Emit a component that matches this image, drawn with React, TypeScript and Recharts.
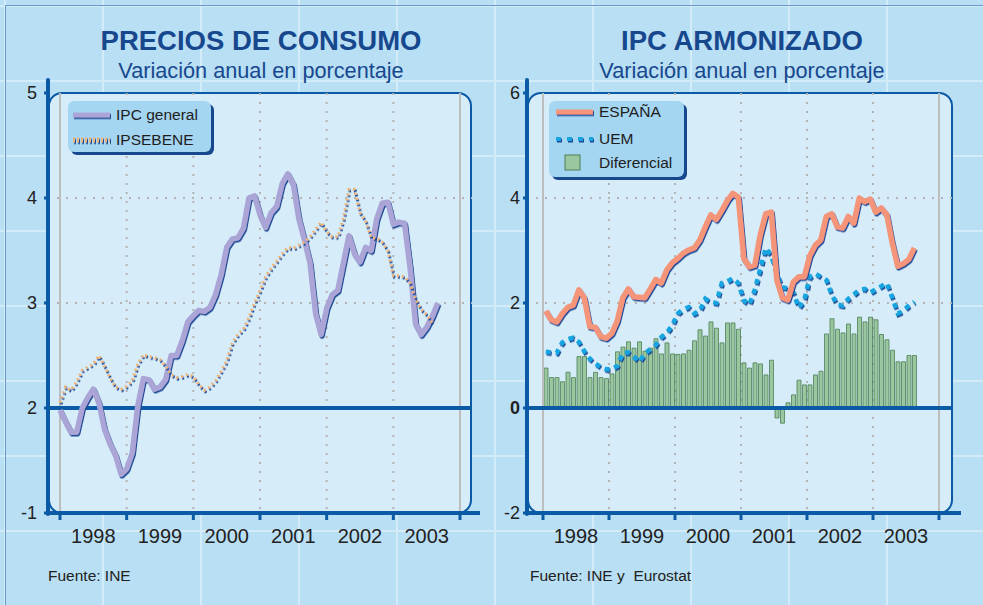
import React from 'react';
import {
  ComposedChart,
  Line,
  Bar,
  XAxis,
  YAxis,
  CartesianGrid,
  ReferenceLine,
} from 'recharts';

// month index 0 = enero 1998
const yearTicks = [0, 12, 24, 36, 48, 60, 72];
const yearLabelTicks = [6, 18, 30, 42, 54, 66];
const yearLabels = ['1998', '1999', '2000', '2001', '2002', '2003'];

// Precios de consumo
const ipcGeneral = [
  1.98, 1.87, 1.77, 1.77, 2.0, 2.1, 2.18, 2.05, 1.8, 1.66, 1.55, 1.37,
  1.42, 1.57, 2.02, 2.28, 2.27, 2.18, 2.2, 2.27, 2.5, 2.5, 2.64, 2.82,
  2.88, 2.93, 2.92, 2.96, 3.08, 3.27, 3.53, 3.61, 3.62, 3.71, 4.0, 4.02,
  3.84, 3.72, 3.86, 3.92, 4.14, 4.23, 4.13, 3.8, 3.6, 3.38, 2.9, 2.7,
  2.95, 3.08, 3.12, 3.38, 3.64, 3.47, 3.39, 3.53, 3.5, 3.8, 3.95, 3.96,
  3.75, 3.77, 3.76, 3.34, 2.8, 2.7, 2.77, 2.87, 3.0,
];
const ipsebene = [
  2.05, 2.2, 2.17, 2.25, 2.36, 2.39, 2.42, 2.5, 2.4, 2.29, 2.2, 2.18,
  2.21, 2.26, 2.42, 2.51, 2.49, 2.48, 2.46, 2.4, 2.32, 2.29, 2.3, 2.32,
  2.3, 2.22, 2.17, 2.2, 2.26, 2.35, 2.45, 2.62, 2.7, 2.75, 2.86, 3.0,
  3.12, 3.25, 3.33, 3.4, 3.47, 3.53, 3.52, 3.55, 3.58, 3.63, 3.7, 3.77,
  3.68, 3.63, 3.63, 3.8, 4.08, 4.08, 3.86, 3.78, 3.62, 3.62, 3.58, 3.5,
  3.26, 3.26, 3.25, 3.19, 3.04, 2.94, 2.89, 2.81,
];
const leftTicks = [1, 2, 3, 4, 5];
const leftTickLabels = ['-1', '2', '3', '4', '5'];

// IPC armonizado
const espana = [
  1.85, 1.68, 1.64, 1.8, 1.92, 1.96, 2.25, 2.1, 1.55, 1.54, 1.36, 1.33,
  1.42, 1.66, 2.1, 2.27, 2.12, 2.11, 2.1, 2.27, 2.45, 2.38, 2.63, 2.77,
  2.85, 2.95, 3.01, 3.05, 3.2, 3.45, 3.68, 3.59, 3.76, 3.95, 4.09, 4.02,
  2.85, 2.69, 2.72, 3.3, 3.7, 3.73, 2.44, 2.1, 2.06, 2.4, 2.5, 2.5,
  2.9, 3.1, 3.2, 3.65, 3.7, 3.45, 3.43, 3.65, 3.52, 4.0, 3.93, 3.98,
  3.73, 3.81, 3.68, 3.14, 2.7, 2.75, 2.83, 3.05,
];
const uem = [
  1.07, 1.06, 1.05, 1.25, 1.31, 1.34, 1.26, 1.08, 0.94, 0.85, 0.78, 0.74,
  0.74, 0.8, 1.05, 1.06, 0.98, 0.88, 1.04, 1.12, 1.2, 1.35, 1.43, 1.58,
  1.8, 1.88, 1.92, 1.8, 1.85, 2.08, 2.02, 2.0, 2.38, 2.41, 2.47, 2.38,
  2.05, 1.97, 2.25, 2.65, 3.05, 2.9, 2.55, 2.3, 2.28, 2.2, 1.91, 2.05,
  2.5, 2.56, 2.5, 2.44, 2.15, 1.97, 1.95, 2.08, 2.16, 2.25, 2.27, 2.2,
  2.26, 2.32, 2.38, 2.1, 1.8, 1.85, 1.95, 2.02,
];
const diferencial = [
  0.76, 0.58, 0.58, 0.5, 0.68, 0.58, 0.98, 0.98, 0.58, 0.68, 0.58, 0.56,
  0.65, 1.07, 1.16, 1.26, 1.14, 1.26, 1.08, 1.14, 1.32, 1.03, 1.24, 1.03,
  1.02, 1.03, 1.1, 1.28, 1.49, 1.37, 1.64, 1.52, 1.24, 1.62, 1.62, 1.5,
  0.86, 0.76, 0.86, 0.84, 0.63, 0.91, -0.19, -0.29, 0.1, 0.25, 0.53, 0.44,
  0.44, 0.63, 0.7, 1.41, 1.7, 1.5, 1.43, 1.6, 1.41, 1.73, 1.64, 1.73,
  1.68, 1.4, 1.3, 1.1, 0.88, 0.88, 1.0, 1.0,
];
const rightTicks = [-2, 0, 2, 4, 6];
const rightTickLabels = ['-2', '0', '2', '4', '6'];

const BLUE = '#0b5aa6';
const TITLE = '#17488e';
const FONT = "'Liberation Sans', Arial, Helvetica, sans-serif";
const GRID = '#b4b4b4';

const leftData = ipcGeneral.map((v, i) => ({
  m: i,
  ipc: v,
  ipsebene: i < ipsebene.length ? ipsebene[i] : null,
}));

const rightData = espana.map((v, i) => ({
  m: i,
  espana: v,
  uem: uem[i],
  dif: diferencial[i],
}));

// bars/points of the right chart sit on month centres
const rightYearTicks = yearTicks.map(t => t - 0.5);
const rightLabelTicks = yearLabelTicks.map(t => t - 0.5);

const Frame = ({ axisX, boxRight }: { axisX: number; boxRight: number }) => (
  <div
    style={{
      position: 'absolute',
      left: axisX,
      top: 92,
      width: boxRight - axisX,
      height: 422,
      background: '#d6edf9',
      border: `2px solid ${BLUE}`,
      borderRadius: 14,
      boxSizing: 'border-box',
    }}
  />
);

const Axes = ({ axisX, lineEnd }: { axisX: number; lineEnd: number }) => (
  <>
    <div style={{ position: 'absolute', left: axisX - 2, top: 78, width: 4, height: 438, background: BLUE, borderRadius: 2 }} />
    <div style={{ position: 'absolute', left: axisX - 2, top: 511, width: lineEnd - axisX + 2, height: 4, background: BLUE }} />
  </>
);

const Title = ({ center, title, sub }: { center: number; title: string; sub: string }) => (
  <>
    <div
      style={{
        position: 'absolute', left: center - 200, width: 400, top: 27, textAlign: 'center',
        fontSize: 27.5, lineHeight: 1, fontWeight: 'bold', color: TITLE, fontFamily: FONT,
      }}
    >
      {title}
    </div>
    <div
      style={{
        position: 'absolute', left: center - 200, width: 400, top: 60, textAlign: 'center',
        fontSize: 21.7, lineHeight: 1, color: TITLE, fontFamily: FONT,
      }}
    >
      {sub}
    </div>
  </>
);

const LegendBox = ({ left, top, width, height, children }: any) => (
  <div
    style={{
      position: 'absolute', left, top, width, height, background: '#a4d5f1',
      borderRadius: 6, boxShadow: `3px 3px 0 ${TITLE}`, fontFamily: FONT, fontSize: 15.5, color: '#1e1e1e',
    }}
  >
    {children}
  </div>
);

const LegendRow = ({ top, textLeft, label, children }: any) => (
  <div style={{ position: 'absolute', top: top - 9, left: 0, height: 18, width: '100%' }}>
    <svg width={50} height={18} style={{ position: 'absolute', left: 0, top: 0, overflow: 'visible' }}>{children}</svg>
    <span style={{ position: 'absolute', left: textLeft, top: 0, lineHeight: '18px' }}>{label}</span>
  </div>
);

const yearLabel = (ticks: number[]) => (v: number) => yearLabels[ticks.indexOf(v)] ?? '';

const LeftTick = (props: any) => {
  const { x, y, payload } = props;
  return (
    <text x={x} y={y} dy="0.355em" textAnchor="end" fontSize={18} fill="#222" fontFamily={FONT}>
      {leftTickLabels[leftTicks.indexOf(payload.value)]}
    </text>
  );
};

const RightTick = (props: any) => {
  const { x, y, payload } = props;
  return (
    <text
      x={x} y={y} dy="0.355em" textAnchor="end" fontSize={18} fill="#222" fontFamily={FONT}
      fontWeight={payload.value === 0 ? 'bold' : 'normal'}
    >
      {rightTickLabels[rightTicks.indexOf(payload.value)]}
    </text>
  );
};

const LeftChart = () => (
  <ComposedChart
    width={490}
    height={605}
    data={leftData}
    margin={{ top: 93, right: 18, bottom: 54, left: 8 }}
    style={{ position: 'absolute', left: 0, top: 0 }}
  >
    <CartesianGrid
      stroke={GRID} strokeWidth={2} strokeDasharray="2 7"
      horizontalValues={[3, 4]} verticalValues={[12, 24, 36, 48, 60]}
    />
    <XAxis
      type="number" dataKey="m" domain={[0, 72]} ticks={yearTicks} interval={0}
      padding={{ left: 12, right: 12 }} height={8} axisLine={false}
      tickLine={{ stroke: BLUE, strokeWidth: 3 }} tickSize={7} tickFormatter={() => ''}
    />
    <XAxis
      xAxisId="yr" type="number" dataKey="m" domain={[0, 72]} ticks={yearLabelTicks} interval={0}
      padding={{ left: 12, right: 12 }} height={30} axisLine={false} tickLine={false}
      tickSize={0} tickMargin={8} tickFormatter={yearLabel(yearLabelTicks)}
      tick={{ fontSize: 20, fill: '#222', fontFamily: FONT }}
    />
    <YAxis
      type="number" domain={[1, 5]} ticks={leftTicks} interval={0} width={40}
      axisLine={false} tickLine={{ stroke: BLUE, strokeWidth: 3 }} tickSize={4} tickMargin={7}
      tick={<LeftTick />}
    />
    <ReferenceLine x={0} stroke="#bdbdbd" strokeWidth={2} />
    <ReferenceLine x={72} stroke="#bdbdbd" strokeWidth={2} />
    <ReferenceLine y={2} stroke={BLUE} strokeWidth={4} />
    <Line
      className="shd" type="linear" dataKey="ipc" stroke="#aaa5d6" strokeWidth={5.5}
      dot={false} activeDot={false} isAnimationActive={false} strokeLinejoin="round"
    />
    <Line
      className="shd" type="linear" dataKey="ipsebene" stroke="#eab47a" strokeWidth={3}
      strokeDasharray="2 3" dot={false} activeDot={false} isAnimationActive={false}
    />
  </ComposedChart>
);

const RightChart = () => (
  <ComposedChart
    width={493}
    height={605}
    data={rightData}
    margin={{ top: 93, right: 30, bottom: 54, left: 7 }}
    style={{ position: 'absolute', left: 490, top: 0 }}
  >
    <CartesianGrid
      stroke={GRID} strokeWidth={2} strokeDasharray="2 7"
      horizontalValues={[2, 4]} verticalValues={[11.5, 23.5, 35.5, 47.5, 59.5]}
    />
    <XAxis
      type="number" dataKey="m" domain={[-0.5, 71.5]} ticks={rightYearTicks} interval={0}
      padding={{ left: 16, right: 14 }} height={8} axisLine={false}
      tickLine={{ stroke: BLUE, strokeWidth: 3 }} tickSize={7} tickFormatter={() => ''}
    />
    <XAxis
      xAxisId="yr" type="number" dataKey="m" domain={[-0.5, 71.5]} ticks={rightLabelTicks} interval={0}
      padding={{ left: 16, right: 14 }} height={30} axisLine={false} tickLine={false}
      tickSize={0} tickMargin={8} tickFormatter={yearLabel(rightLabelTicks)}
      tick={{ fontSize: 20, fill: '#222', fontFamily: FONT }}
    />
    <YAxis
      type="number" domain={[-2, 6]} ticks={rightTicks} interval={0} width={30}
      axisLine={false} tickLine={{ stroke: BLUE, strokeWidth: 3 }} tickSize={4} tickMargin={3}
      tick={<RightTick />}
    />
    <ReferenceLine x={-0.5} stroke="#bdbdbd" strokeWidth={2} />
    <ReferenceLine x={71.5} stroke="#bdbdbd" strokeWidth={2} />
    <Bar dataKey="dif" barSize={4} fill="#9ac79f" stroke="#4d7f55" strokeWidth={0.8} isAnimationActive={false} />
    <ReferenceLine y={0} stroke={BLUE} strokeWidth={4} />
    <Line
      className="shd" type="linear" dataKey="uem" stroke="#19a5e1" strokeWidth={4.5}
      strokeDasharray="5 5" dot={false} activeDot={false} isAnimationActive={false}
    />
    <Line
      className="shd" type="linear" dataKey="espana" stroke="#f49478" strokeWidth={5.5}
      dot={false} activeDot={false} isAnimationActive={false} strokeLinejoin="round"
    />
  </ComposedChart>
);

export default function App() {
  return (
    <div
      style={{
        position: 'absolute', left: 0, top: 0, width: 983, height: 605, overflow: 'hidden',
        backgroundColor: '#b9dff4',
        backgroundImage:
          'linear-gradient(to right, #d2ecf9 2px, transparent 2px), linear-gradient(to bottom, #d2ecf9 2px, transparent 2px)',
        backgroundSize: '98px 75px',
        backgroundPosition: '4px 5px',
        fontFamily: FONT,
      }}
    >
      <style>{`.shd { filter: url(#shd); }`}</style>
      <svg width={0} height={0} style={{ position: 'absolute' }}>
        <defs>
          <filter id="shd" filterUnits="userSpaceOnUse" x={-100} y={-100} width={1200} height={900}>
            <feDropShadow dx={1} dy={1.5} stdDeviation={0} floodColor="#1a4a95" floodOpacity={1} />
          </filter>
        </defs>
      </svg>
      <div style={{ position: 'absolute', left: 5, top: 5, width: 990, height: 610, borderLeft: '1.5px solid #6b98c6', borderTop: '1.5px solid #6b98c6' }} />

      <Title center={261} title="PRECIOS DE CONSUMO" sub="Variación anual en porcentaje" />
      <Title center={742} title="IPC ARMONIZADO" sub="Variación anual en porcentaje" />

      <Frame axisX={48} boxRight={472} />
      <Frame axisX={527} boxRight={953} />

      <LeftChart />
      <RightChart />

      <Axes axisX={48} lineEnd={480} />
      <Axes axisX={527} lineEnd={961} />

      <LegendBox left={68} top={101} width={143} height={51}>
        <LegendRow top={14} textLeft={48} label="IPC general">
          <line className="shd" x1={5} x2={42} y1={9} y2={9} stroke="#aaa5d6" strokeWidth={5} />
        </LegendRow>
        <LegendRow top={39} textLeft={48} label="IPSEBENE">
          <line className="shd" x1={5} x2={42} y1={9} y2={9} stroke="#eab47a" strokeWidth={5} strokeDasharray="2 2" />
        </LegendRow>
      </LegendBox>

      <LegendBox left={549} top={101} width={135} height={76}>
        <LegendRow top={11} textLeft={50} label="ESPAÑA">
          <line className="shd" x1={7} x2={44} y1={9} y2={9} stroke="#f49478" strokeWidth={5} />
        </LegendRow>
        <LegendRow top={38} textLeft={50} label="UEM">
          <line className="shd" x1={7} x2={44} y1={9} y2={9} stroke="#19a5e1" strokeWidth={4} strokeDasharray="5 6" />
        </LegendRow>
        <LegendRow top={62} textLeft={50} label="Diferencial">
          <rect x={16} y={1} width={15} height={15} fill="#9ac79f" stroke="#4d7f55" strokeWidth={1} />
        </LegendRow>
      </LegendBox>

      <div style={{ position: 'absolute', left: 48, top: 568, fontSize: 15.5, lineHeight: 1, color: '#222' }}>Fuente: INE</div>
      <div style={{ position: 'absolute', left: 530, top: 568, fontSize: 15.5, lineHeight: 1, color: '#222', whiteSpace: 'pre' }}>Fuente: INE y  Eurostat</div>
    </div>
  );
}
